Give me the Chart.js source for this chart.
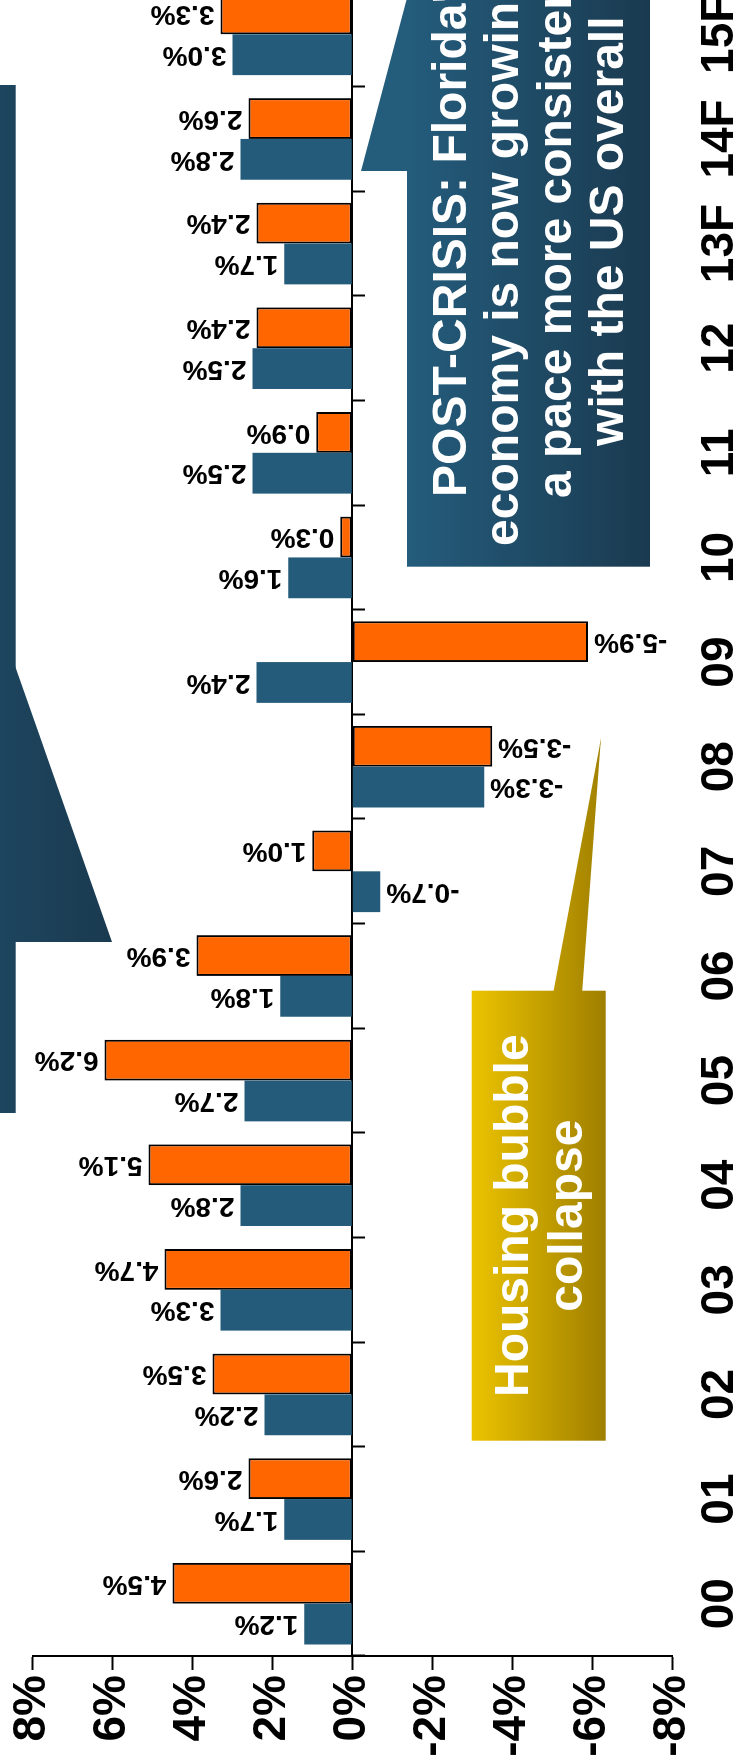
<!DOCTYPE html>
<html>
<head>
<meta charset="utf-8">
<title>Florida vs US GDP growth</title>
<script src="https://cdn.jsdelivr.net/npm/chart.js@4.4.1/dist/chart.umd.min.js"></script>
<style>
  html, body { margin: 0; padding: 0; background: #fff; }
  body { width: 742px; height: 1764px; overflow: hidden; position: relative; }
  /* chart is laid out landscape, then turned a quarter counter-clockwise */
  #turn {
    position: absolute; left: 0; top: 0;
    width: 1800px; height: 742px;
    transform-origin: 0 0;
    transform: translateY(1764px) rotate(-90deg);
  }
  #turn canvas, #turn svg { position: absolute; left: 0; top: 0; }
  .note {
    position: absolute;
    display: flex; align-items: center; justify-content: center;
    text-align: center; white-space: nowrap;
    color: #fff;
    font: bold 48px "Liberation Sans", Arial, sans-serif;
  }
</style>
</head>
<body>
<div id="turn">
  <canvas id="chart" width="1800" height="742"></canvas>

  <svg id="shapes" width="1800" height="742">
    <defs>
      <linearGradient id="gNavy" gradientUnits="userSpaceOnUse" x1="0" y1="-228" x2="0" y2="112">
        <stop offset="0" stop-color="#245c7c"/>
        <stop offset="1" stop-color="#1a3a50"/>
      </linearGradient>
      <linearGradient id="gPost" gradientUnits="userSpaceOnUse" x1="0" y1="407" x2="0" y2="650">
        <stop offset="0" stop-color="#245c7c"/>
        <stop offset="1" stop-color="#1a3a50"/>
      </linearGradient>
      <linearGradient id="gGold" gradientUnits="userSpaceOnUse" x1="0" y1="472" x2="0" y2="606">
        <stop offset="0" stop-color="#ecc300"/>
        <stop offset="1" stop-color="#9f7f00"/>
      </linearGradient>
    </defs>
    <!-- pre-crisis callout (mostly off the page) -->
    <rect x="651" y="-40" width="1028" height="55.7" fill="url(#gNavy)"/>
    <polygon points="1101,14 822,112 822,14" fill="url(#gNavy)"/>
    <!-- post-crisis callout -->
    <rect x="1197.3" y="407" width="700" height="243" fill="url(#gPost)"/>
    <polygon points="1593,361 1766,407 1766,410 1593,410" fill="url(#gPost)"/>
    <!-- housing bubble callout -->
    <rect x="323.3" y="471.7" width="450" height="134" fill="url(#gGold)"/>
    <polygon points="770,553 770,582 1026,601" fill="url(#gGold)"/>
  </svg>

  <div class="note" style="left:1197.3px; top:407px; width:671px; height:243px; line-height:52.2px;">
    <div>POST-CRISIS: Florida's<br>economy is now growing at<br>a pace more consistent<br>with the US overall</div>
  </div>
  <div class="note" style="left:323.3px; top:471.7px; width:450px; height:134px; line-height:53.4px;">
    <div>Housing bubble<br>collapse</div>
  </div>
</div>

<script>
// annual real GDP growth, %
const years = ["00", "01", "02", "03", "04", "05", "06", "07", "08", "09", "10", "11", "12", "13F", "14F", "15F"];
const usGrowth = [1.2, 1.7, 2.2, 3.3, 2.8, 2.7, 1.8, -0.7, -3.3, 2.4, 1.6, 2.5, 2.5, 1.7, 2.8, 3.0];
const flGrowth = [4.5, 2.6, 3.5, 4.7, 5.1, 6.2, 3.9, 1.0, -3.5, -5.9, 0.3, 0.9, 2.4, 2.4, 2.6, 3.3];
const pctTicks = [-8, -6, -4, -2, 0, 2, 4, 6, 8];

const FONT = '"Liberation Sans", Arial, sans-serif';

// value labels, written along the bars
const barLabels = {
  id: "barLabels",
  afterDatasetsDraw(chart) {
    const ctx = chart.ctx;
    ctx.save();
    ctx.font = `bold 28px ${FONT}`;
    ctx.fillStyle = "#000";
    ctx.textBaseline = "middle";
    chart.data.datasets.forEach((ds, i) => {
      chart.getDatasetMeta(i).data.forEach((bar, j) => {
        const v = ds.data[j];
        const gap = 6;
        ctx.save();
        ctx.translate(bar.x, v >= 0 ? bar.y - gap : bar.y + gap);
        ctx.rotate(-Math.PI / 2);
        ctx.textAlign = v >= 0 ? "left" : "right";
        ctx.fillText(v.toFixed(1) + "%", 0, 0);
        ctx.restore();
      });
    });
    ctx.restore();
  }
};

new Chart(document.getElementById("chart"), {
  type: "bar",
  data: {
    labels: years,
    datasets: [
      {
        label: "US",
        data: usGrowth,
        backgroundColor: "#245b7a",
        borderWidth: 0
      },
      {
        label: "Florida",
        data: flGrowth,
        backgroundColor: "#ff6600",
        borderColor: "#000",
        borderWidth: 2,
        borderSkipped: false
      }
    ]
  },
  options: {
    responsive: false,
    animation: false,
    events: [],
    datasets: { bar: { categoryPercentage: 0.78, barPercentage: 1.0 } },
    layout: { padding: { top: 28, right: 18, bottom: 0, left: 0 } },
    plugins: {
      legend: { display: false },
      tooltip: { enabled: false }
    },
    scales: {
      x: {
        offset: true,
        grid: { display: false, drawTicks: false },
        border: { display: false },
        ticks: {
          color: "#000",
          font: { family: FONT, size: 46, weight: "bold" },
          padding: 21,
          maxRotation: 0,
          autoSkip: false
        },
        afterFit(s) { s.height = 70; }
      },
      // category axis line sitting on 0%
      x2: {
        type: "category",
        axis: "x",
        position: { y: 0 },
        offset: true,
        z: 1,
        grid: {
          offset: true,
          drawOnChartArea: false,
          tickLength: 12,
          tickWidth: 2,
          tickColor: "#000"
        },
        border: { display: true, color: "#000", width: 2 },
        ticks: { display: false }
      },
      y: {
        min: -8,
        max: 8,
        afterBuildTicks(s) { s.ticks = pctTicks.map(v => ({ value: v })); },
        ticks: {
          color: "#000",
          font: { family: FONT, size: 46, weight: "bold" },
          padding: 5,
          callback: v => v + "%"
        },
        grid: {
          drawOnChartArea: false,
          tickLength: 14,
          tickWidth: 2,
          tickColor: "#000"
        },
        border: { display: true, color: "#000", width: 2 },
        afterFit(s) { s.width = 108; }
      }
    }
  },
  plugins: [barLabels]
});
</script>
</body>
</html>
